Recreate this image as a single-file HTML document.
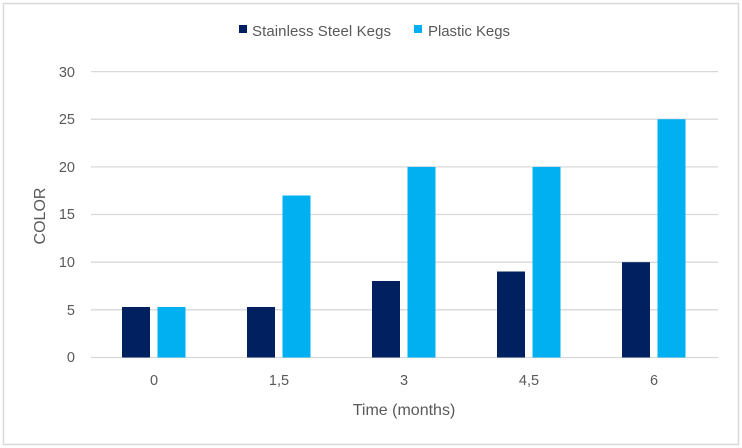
<!DOCTYPE html>
<html><head><style>body{margin:0;background:#fff}svg{display:block}</style></head><body>
<svg width="742" height="448" xmlns="http://www.w3.org/2000/svg" font-family="Liberation Sans, Arial, sans-serif" fill="#595959">
<rect x="3.5" y="3.5" width="735" height="441" fill="#fff" stroke="#d9d9d9" stroke-width="1.5"/>
<g stroke="#d9d9d9" stroke-width="1.3">
<line x1="91" x2="718" y1="71.6" y2="71.6"/>
<line x1="91" x2="718" y1="119.2" y2="119.2"/>
<line x1="91" x2="718" y1="166.9" y2="166.9"/>
<line x1="91" x2="718" y1="214.5" y2="214.5"/>
<line x1="91" x2="718" y1="262.2" y2="262.2"/>
<line x1="91" x2="718" y1="309.8" y2="309.8"/>
<line x1="91" x2="718" y1="357.5" y2="357.5"/>
</g>
<g font-size="14.5" text-anchor="end">
<text x="75" y="77">30</text><text x="75" y="124">25</text><text x="75" y="172">20</text>
<text x="75" y="219">15</text><text x="75" y="267">10</text><text x="75" y="315">5</text><text x="75" y="362">0</text>
</g>
<g fill="#002060">
<rect x="122" y="307" width="28" height="50.5"/>
<rect x="247" y="307" width="28" height="50.5"/>
<rect x="372" y="281" width="28" height="76.5"/>
<rect x="497" y="271.5" width="28" height="86"/>
<rect x="622" y="262.2" width="28" height="95.3"/>
</g>
<g fill="#00b0f0">
<rect x="157.5" y="307" width="28" height="50.5"/>
<rect x="282.5" y="195.5" width="28" height="162"/>
<rect x="407.5" y="166.9" width="28" height="190.6"/>
<rect x="532.5" y="166.9" width="28" height="190.6"/>
<rect x="657.5" y="119.2" width="28" height="238.3"/>
</g>
<g font-size="14.5" text-anchor="middle">
<text x="154" y="385">0</text><text x="279" y="385">1,5</text><text x="404" y="385">3</text>
<text x="529" y="385">4,5</text><text x="654" y="385">6</text>
<text x="404" y="415" font-size="16">Time (months)</text>
<text transform="translate(45,216) rotate(-90)" font-size="16">COLOR</text>
</g>
<rect x="239" y="25" width="8" height="8" fill="#002060"/>
<text x="252" y="36" font-size="15" textLength="139">Stainless Steel Kegs</text>
<rect x="414" y="25" width="8" height="8" fill="#00b0f0"/>
<text x="428" y="36" font-size="15" textLength="82">Plastic Kegs</text>
</svg>
</body></html>
